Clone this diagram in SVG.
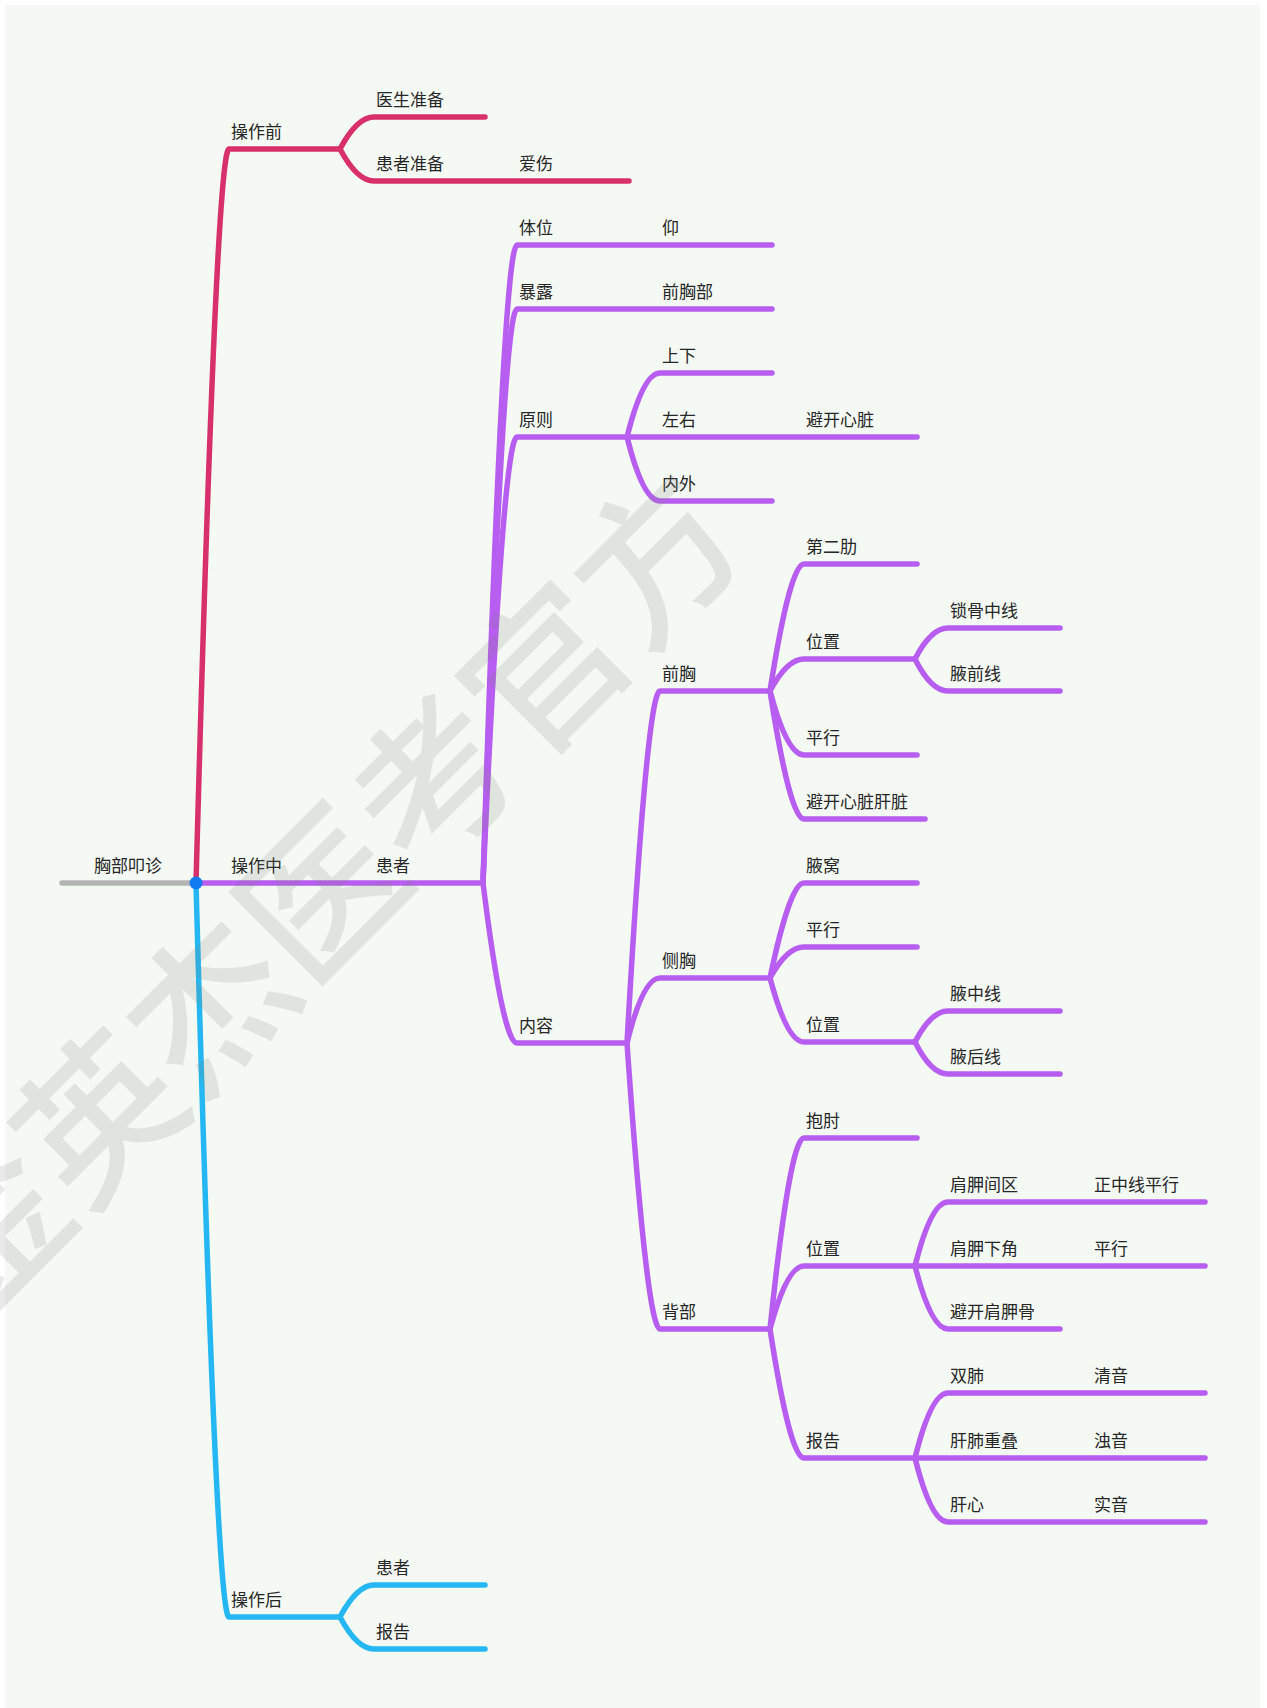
<svg xmlns="http://www.w3.org/2000/svg" width="1267" height="1708" viewBox="0 0 1267 1708">
<style>
  text { font-family: "Noto Sans CJK SC", "Noto Sans", sans-serif; font-size: 17px; fill: #262626; }
  .ln { fill: none; stroke-width: 5.5; stroke-linecap: round; stroke-linejoin: round; }
  .pink { stroke: #d8306a; }
  .purple { stroke: #b75df0; }
  .blue { stroke: #24b7f2; }
  .gray { stroke: #b4b4b4; }
  .wm { font-size: 158px; font-weight: 500; fill: #7d837d; fill-opacity: 0.18; }
</style>
<rect x="0" y="0" width="1267" height="1708" fill="#ffffff"/>
<rect x="5" y="5" width="1255" height="1703" fill="#f5f9f4"/>
<g id="connectors">
  <path class="ln gray" d="M62,883 H196"/>
  <path class="ln pink" d="M196,883 Q216,149 229,149 H340"/>
  <path class="ln pink" d="M340,149 Q357,117 374,117 H485"/>
  <path class="ln pink" d="M340,149 Q357,181 374,181 H629"/>
  <path class="ln blue" d="M196,883 Q216,1617 229,1617 H340"/>
  <path class="ln blue" d="M340,1617 Q357,1585 374,1585 H485"/>
  <path class="ln blue" d="M340,1617 Q357,1649 374,1649 H485"/>
  <path class="ln purple" d="M196,883 H483"/>
  <path class="ln purple" d="M483,883 Q503,245 517,245 H772"/>
  <path class="ln purple" d="M483,883 Q503,309 517,309 H772"/>
  <path class="ln purple" d="M483,883 Q503,437 517,437 H627"/>
  <path class="ln purple" d="M483,883 Q503,1043 517,1043 H627"/>
  <path class="ln purple" d="M627,437 Q643,373 660,373 H772"/>
  <path class="ln purple" d="M627,437 H917"/>
  <path class="ln purple" d="M627,437 Q643,501 660,501 H772"/>
  <path class="ln purple" d="M627,1043 Q647,691 660,691 H770"/>
  <path class="ln purple" d="M627,1043 Q643,978 660,978 H770"/>
  <path class="ln purple" d="M627,1043 Q647,1329 660,1329 H770"/>
  <path class="ln purple" d="M770,691 Q790,564 804,564 H917"/>
  <path class="ln purple" d="M770,691 Q787,659 804,659 H915"/>
  <path class="ln purple" d="M770,691 Q787,755 804,755 H917"/>
  <path class="ln purple" d="M770,691 Q790,819 804,819 H925"/>
  <path class="ln purple" d="M915,659 Q931,628 948,628 H1060"/>
  <path class="ln purple" d="M915,659 Q931,691 948,691 H1060"/>
  <path class="ln purple" d="M770,978 Q790,883 804,883 H917"/>
  <path class="ln purple" d="M770,978 Q787,947 804,947 H917"/>
  <path class="ln purple" d="M770,978 Q787,1042 804,1042 H915"/>
  <path class="ln purple" d="M915,1042 Q931,1011 948,1011 H1060"/>
  <path class="ln purple" d="M915,1042 Q931,1074 948,1074 H1060"/>
  <path class="ln purple" d="M770,1329 Q790,1138 804,1138 H917"/>
  <path class="ln purple" d="M770,1329 Q787,1266 804,1266 H915"/>
  <path class="ln purple" d="M770,1329 Q790,1458 804,1458 H915"/>
  <path class="ln purple" d="M915,1266 Q931,1202 948,1202 H1205"/>
  <path class="ln purple" d="M915,1266 H1205"/>
  <path class="ln purple" d="M915,1266 Q931,1329 948,1329 H1060"/>
  <path class="ln purple" d="M915,1458 Q931,1393 948,1393 H1205"/>
  <path class="ln purple" d="M915,1458 H1205"/>
  <path class="ln purple" d="M915,1458 Q931,1522 948,1522 H1205"/>
  <circle cx="196" cy="883" r="6.5" fill="#0f7bef"/>
</g>
<g id="n-root"><text x="94" y="872">胸部叩诊</text></g>
<g id="n-before"><text x="231" y="138">操作前</text></g>
<g id="n-during"><text x="231" y="872">操作中</text></g>
<g id="n-after"><text x="231" y="1606">操作后</text></g>
<g id="n-doctor-prep"><text x="376" y="106">医生准备</text></g>
<g id="n-patient-prep"><text x="376" y="170">患者准备</text></g>
<g id="n-care"><text x="519" y="170">爱伤</text></g>
<g id="n-patient"><text x="376" y="872">患者</text></g>
<g id="n-after-patient"><text x="376" y="1574">患者</text></g>
<g id="n-after-report"><text x="376" y="1638">报告</text></g>
<g id="n-posture"><text x="519" y="234">体位</text></g>
<g id="n-supine"><text x="662" y="234">仰</text></g>
<g id="n-expose"><text x="519" y="298">暴露</text></g>
<g id="n-front-chest-area"><text x="662" y="298">前胸部</text></g>
<g id="n-principle"><text x="519" y="426">原则</text></g>
<g id="n-updown"><text x="662" y="362">上下</text></g>
<g id="n-leftright"><text x="662" y="426">左右</text></g>
<g id="n-avoid-heart"><text x="806" y="426">避开心脏</text></g>
<g id="n-inout"><text x="662" y="490">内外</text></g>
<g id="n-content"><text x="519" y="1032">内容</text></g>
<g id="n-front"><text x="662" y="680">前胸</text></g>
<g id="n-side"><text x="662" y="967">侧胸</text></g>
<g id="n-back"><text x="662" y="1318">背部</text></g>
<g id="n-rib2"><text x="806" y="553">第二肋</text></g>
<g id="n-front-pos"><text x="806" y="648">位置</text></g>
<g id="n-front-parallel"><text x="806" y="744">平行</text></g>
<g id="n-avoid-heart-liver"><text x="806" y="808">避开心脏肝脏</text></g>
<g id="n-midclav"><text x="950" y="617">锁骨中线</text></g>
<g id="n-ant-axillary"><text x="950" y="680">腋前线</text></g>
<g id="n-axilla"><text x="806" y="872">腋窝</text></g>
<g id="n-side-parallel"><text x="806" y="936">平行</text></g>
<g id="n-side-pos"><text x="806" y="1031">位置</text></g>
<g id="n-mid-axillary"><text x="950" y="1000">腋中线</text></g>
<g id="n-post-axillary"><text x="950" y="1063">腋后线</text></g>
<g id="n-hug"><text x="806" y="1127">抱肘</text></g>
<g id="n-back-pos"><text x="806" y="1255">位置</text></g>
<g id="n-back-report"><text x="806" y="1447">报告</text></g>
<g id="n-interscap"><text x="950" y="1191">肩胛间区</text></g>
<g id="n-midline-parallel"><text x="1094" y="1191">正中线平行</text></g>
<g id="n-infrascap"><text x="950" y="1255">肩胛下角</text></g>
<g id="n-back-parallel"><text x="1094" y="1255">平行</text></g>
<g id="n-avoid-scap"><text x="950" y="1318">避开肩胛骨</text></g>
<g id="n-lungs"><text x="950" y="1382">双肺</text></g>
<g id="n-resonant"><text x="1094" y="1382">清音</text></g>
<g id="n-liver-lung"><text x="950" y="1447">肝肺重叠</text></g>
<g id="n-dull"><text x="1094" y="1447">浊音</text></g>
<g id="n-liver-heart"><text x="950" y="1511">肝心</text></g>
<g id="n-flat"><text x="1094" y="1511">实音</text></g>
<text class="wm" transform="translate(-28,1326) rotate(-45)">金英杰医考官方</text>
</svg>
